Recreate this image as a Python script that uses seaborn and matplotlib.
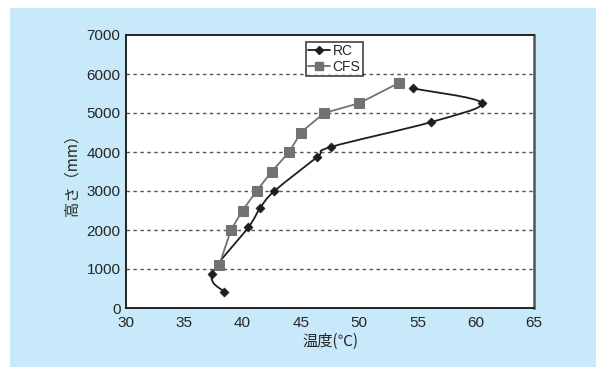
import numpy as np
import seaborn as sns
import matplotlib.pyplot as plt
from matplotlib.lines import Line2D
from matplotlib.patches import Rectangle, PathPatch
from matplotlib.path import Path

# RC (smoothed line in the original)
rc_temp = [38.4, 37.4, 40.5, 41.5, 42.7, 46.4, 47.6, 56.2, 60.5, 54.6]
rc_height = [420, 880, 2070, 2560, 2990, 3870, 4130, 4770, 5260, 5630]

# CFS
cfs_temp = [38.0, 39.0, 40.0, 41.2, 42.5, 44.0, 45.0, 47.0, 50.0, 53.4]
cfs_height = [1100, 2000, 2500, 3000, 3500, 4000, 4500, 5000, 5250, 5770]

x_ticks = [30, 35, 40, 45, 50, 55, 60, 65]
y_ticks = [0, 1000, 2000, 3000, 4000, 5000, 6000, 7000]

bg_blue = "#c8e9f9"
rc_color = "#1e1e1e"
cfs_color = "#727272"

sns.set_style("white")
plt.rcParams['font.family'] = ['Liberation Sans Narrow', 'Liberation Sans', 'DejaVu Sans']
jp_font = ['Noto Sans CJK JP', 'DejaVu Sans']

fig = plt.figure(figsize=(5.96, 3.67), dpi=100, facecolor="white")
fig.patches.append(Rectangle((10 / 596, 0), 1, 1 - 8 / 367, transform=fig.transFigure,
                             facecolor=bg_blue, edgecolor="none", zorder=-10))
ax = fig.add_axes([126 / 596, 1 - 308 / 367, 408 / 596, 273 / 367])
ax.set_facecolor("white")


def smooth_path(xs, ys):
    # Excel-style smoothed line: Catmull-Rom segments as cubic Beziers
    pts = np.column_stack([xs, ys]).astype(float)
    ext = np.vstack([pts[0], pts, pts[-1]])
    verts = [pts[0]]
    codes = [Path.MOVETO]
    for i in range(1, len(ext) - 2):
        p0, p1, p2, p3 = ext[i - 1], ext[i], ext[i + 1], ext[i + 2]
        verts += [p1 + (p2 - p0) / 6, p2 - (p3 - p1) / 6, p2]
        codes += [Path.CURVE4] * 3
    return Path(verts, codes)


ax.add_patch(PathPatch(smooth_path(rc_temp, rc_height), facecolor="none",
                       edgecolor=rc_color, lw=1.3, zorder=3))
sns.scatterplot(x=rc_temp, y=rc_height, marker="D", s=22, color=rc_color,
                edgecolor=rc_color, ax=ax, zorder=4)
sns.lineplot(x=cfs_temp, y=cfs_height, sort=False, color=cfs_color, lw=1.3,
             marker="s", markersize=6.5, markeredgecolor=cfs_color, ax=ax, zorder=3)

ax.set_xlim(30, 65)
ax.set_ylim(0, 7000)
ax.set_xticks(x_ticks)
ax.set_yticks(y_ticks)
ax.tick_params(axis="x", direction="in", length=4, width=0.8, labelsize=11, pad=6)
ax.tick_params(axis="y", length=0, labelsize=11, pad=4)
for yv in y_ticks[1:-1]:
    ax.axhline(yv, color="#555555", lw=1, ls=(0, (2.5, 2.5)), zorder=1)

for side in ax.spines:
    ax.spines[side].set_color("#222222")
    ax.spines[side].set_linewidth(1.4)
ax.spines["right"].set_color("#555555")
ax.spines["right"].set_linewidth(1.8)

ax.set_xlabel("温度(℃)", family=jp_font, fontsize=11, labelpad=2)
ax.set_ylabel("高さ（mm）", family=jp_font, fontsize=11, labelpad=4)

handles = [
    Line2D([], [], color=rc_color, lw=1.3, marker="D", markersize=4.5),
    Line2D([], [], color=cfs_color, lw=1.3, marker="s", markersize=6),
]
leg = ax.legend(handles, ["RC", "CFS"], loc="upper center", bbox_to_anchor=(0.51, 0.974),
                frameon=True, fancybox=False, edgecolor="#111111", fontsize=10,
                handlelength=1.6, handletextpad=0.2, borderpad=0.15, labelspacing=0.1,
                borderaxespad=0)
leg.get_frame().set_linewidth(1.2)

fig.savefig("out.png", dpi=100, facecolor=fig.get_facecolor())
